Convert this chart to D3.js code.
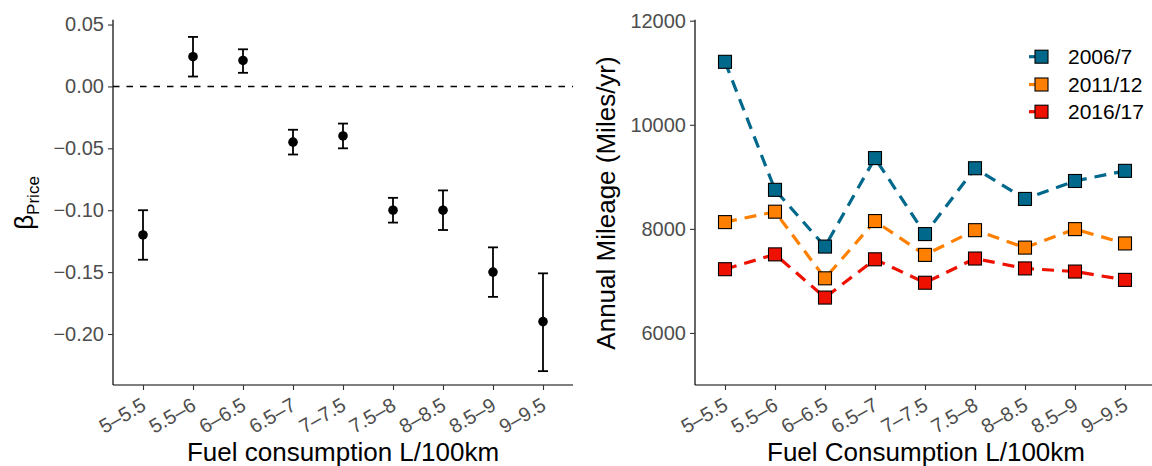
<!DOCTYPE html>
<html>
<head>
<meta charset="utf-8">
<script src="https://cdn.jsdelivr.net/npm/d3@7"></script>
<style>
html,body{margin:0;padding:0;background:#fff;}
text{font-family:"Liberation Sans",Arial,sans-serif;}
</style>
</head>
<body>
<svg id="chart" width="1152" height="466"></svg>
<script>
const categories = ["5–5.5","5.5–6","6–6.5","6.5–7","7–7.5","7.5–8","8–8.5","8.5–9","9–9.5"];
const betaPrice = [-0.12,0.024,0.021,-0.045,-0.04,-0.10,-0.10,-0.15,-0.19];
const betaLower = [-0.14,0.008,0.011,-0.055,-0.05,-0.11,-0.116,-0.17,-0.23];
const betaUpper = [-0.10,0.04,0.030,-0.035,-0.03,-0.09,-0.084,-0.13,-0.151];
const leftTicks = [0.05,0,-0.05,-0.10,-0.15,-0.20];

const seriesNames = ["2006/7","2011/12","2016/17"];
const seriesColors = ["#00688B","#FF8000","#EE1100"];
const mileage2006 = [11210,8750,7660,9360,7900,9165,8575,8920,9115];
const mileage2011 = [8130,8330,7050,8150,7500,7975,7640,7995,7720];
const mileage2016 = [7225,7510,6680,7415,6965,7430,7240,7180,7020];
const rightTicks = [6000,8000,10000,12000];

const svg = d3.select("#chart");
const plotTop = 20.7, plotBottom = 385;

function fmtBeta(v){ const s = Math.abs(v).toFixed(2); return (v < -1e-9 ? "\u2212" : "") + s; }

function styleAxis(g){
  g.select(".domain").attr("stroke","#000").attr("stroke-width",1.2);
  g.selectAll(".tick line").attr("stroke","#333").attr("stroke-width",1.1);
  g.selectAll(".tick text").attr("fill","#4D4D4D").attr("font-size",20)
    .attr("font-family","Liberation Sans, Arial, sans-serif");
}

function xAxis(x, x0, x1){
  const g = svg.append("g").attr("transform",`translate(0,${plotBottom})`)
    .call(d3.axisBottom(x).tickSize(5).tickSizeOuter(0));
  g.select(".domain").remove();
  g.insert("line",":first-child").attr("class","domain").attr("x1",x0).attr("x2",x1).attr("y1",0).attr("y2",0);
  styleAxis(g);
  g.selectAll(".tick text")
    .attr("text-anchor","end").attr("dy",null).attr("y",0)
    .attr("transform","translate(4,24) rotate(-30)");
  return g;
}

function yAxis(y, xpos, fmt, ticks){
  const g = svg.append("g").attr("transform",`translate(${xpos},0)`)
    .call(d3.axisLeft(y).tickValues(ticks).tickFormat(fmt).tickSize(5).tickSizeOuter(0).tickPadding(4));
  g.select(".domain").remove();
  g.insert("line",":first-child").attr("class","domain").attr("x1",0).attr("x2",0).attr("y1",plotTop-1).attr("y2",plotBottom);
  styleAxis(g);
  return g;
}

// ---------- Left panel ----------
const xL = d3.scalePoint().domain(categories).range([143,543]);
const yL = d3.scaleLinear().domain([-0.2412,0.0531]).range([plotBottom, plotTop]);

svg.append("line").attr("x1",113).attr("x2",573).attr("y1",yL(0)).attr("y2",yL(0))
  .attr("stroke","#000").attr("stroke-width",1.5).attr("stroke-dasharray","6.5,7");

const eb = svg.append("g");
categories.forEach((c,i)=>{
  const cx = xL(c);
  eb.append("line").attr("x1",cx).attr("x2",cx).attr("y1",yL(betaLower[i])).attr("y2",yL(betaUpper[i]))
    .attr("stroke","#000").attr("stroke-width",1.8);
  [betaLower[i],betaUpper[i]].forEach(v=>{
    eb.append("line").attr("x1",cx-5).attr("x2",cx+5).attr("y1",yL(v)).attr("y2",yL(v))
      .attr("stroke","#000").attr("stroke-width",1.8);
  });
  eb.append("circle").attr("cx",cx).attr("cy",yL(betaPrice[i])).attr("r",4.8).attr("fill","#000");
});

xAxis(xL,113,573);
yAxis(yL,113,fmtBeta,leftTicks);

svg.append("text").attr("x",343).attr("y",461).attr("text-anchor","middle")
  .attr("font-size",26).attr("fill","#000").text("Fuel consumption L/100km");

const bt = svg.append("text").attr("transform","translate(33,203) rotate(-90)")
  .attr("text-anchor","middle").attr("fill","#000");
bt.append("tspan").attr("font-size",26).text("β");
bt.append("tspan").attr("font-size",17).attr("dy",6).text("Price");

// ---------- Right panel ----------
const xR = d3.scalePoint().domain(categories).range([725,1125]);
const yR = d3.scaleLinear().domain([5000,12000]).range([plotBottom, plotTop]);
const seriesData = [mileage2006, mileage2011, mileage2016];

const line = d3.line().x((d,i)=>xR(categories[i])).y(d=>yR(d));
seriesData.forEach((vals,k)=>{
  svg.append("path").datum(vals).attr("d",line).attr("fill","none")
    .attr("stroke",seriesColors[k]).attr("stroke-width",3.2).attr("stroke-dasharray","12,8");
});
seriesData.forEach((vals,k)=>{
  svg.append("g").selectAll("rect").data(vals).join("rect")
    .attr("x",(d,i)=>xR(categories[i])-6.5).attr("y",d=>yR(d)-6.5)
    .attr("width",13).attr("height",13)
    .attr("fill",seriesColors[k]).attr("stroke","#000").attr("stroke-width",1.1);
});

xAxis(xR,695,1155);
yAxis(yR,695,d3.format("d"),rightTicks);

svg.append("text").attr("x",926).attr("y",461).attr("text-anchor","middle")
  .attr("font-size",26).attr("fill","#000").text("Fuel Consumption L/100km");
svg.append("text").attr("transform","translate(615,203) rotate(-90)")
  .attr("text-anchor","middle").attr("font-size",26).attr("fill","#000")
  .text("Annual Mileage (Miles/yr)");

// Legend
const legY = [56.7, 84.5, 111.7];
seriesNames.forEach((name,k)=>{
  const g = svg.append("g");
  g.append("line").attr("x1",1029).attr("x2",1040).attr("y1",legY[k]).attr("y2",legY[k])
    .attr("stroke",seriesColors[k]).attr("stroke-width",3.2);
  g.append("rect").attr("x",1035).attr("y",legY[k]-6.5).attr("width",13).attr("height",13)
    .attr("fill",seriesColors[k]).attr("stroke","#000").attr("stroke-width",1.1);
  g.append("text").attr("x",1068).attr("y",legY[k]).attr("dy","0.36em")
    .attr("font-size",21).attr("fill","#000").text(name);
});
</script>
</body>
</html>
